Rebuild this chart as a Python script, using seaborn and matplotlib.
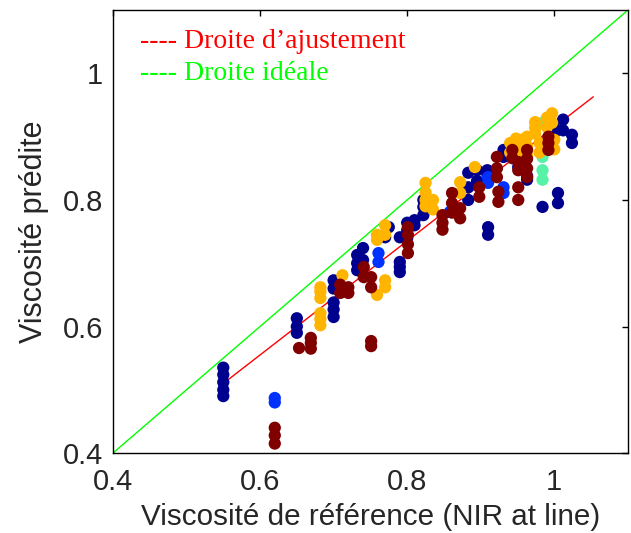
import numpy as np
import pandas as pd
import matplotlib
matplotlib.use("Agg")
import matplotlib.pyplot as plt
import seaborn as sns

# Données (référence, prédite) par série
ref_navy = [0.55, 0.55, 0.55, 0.55, 0.55,
            0.65, 0.65, 0.65,
            0.70, 0.70, 0.70, 0.70, 0.70,
            0.732, 0.732, 0.732, 0.74, 0.74,
            0.77, 0.775, 0.79, 0.79, 0.79, 0.79,
            0.80, 0.80, 0.80, 0.81, 0.81,
            0.822, 0.822, 0.822,
            0.883, 0.883, 0.883, 0.895, 0.895,
            0.909, 0.909, 0.91, 0.91,
            0.931, 0.931, 0.951, 0.951, 0.963, 0.963,
            0.984, 1.005, 1.005, 1.0, 1.0, 1.012, 1.012, 1.024, 1.024]
pred_navy = [0.49, 0.50, 0.512, 0.524, 0.535,
             0.59, 0.60, 0.613,
             0.615, 0.627, 0.638, 0.66, 0.673,
             0.689, 0.70, 0.713, 0.705, 0.724,
             0.741, 0.757, 0.686, 0.694, 0.702, 0.741,
             0.74, 0.752, 0.764, 0.76, 0.768,
             0.776, 0.789, 0.80,
             0.80, 0.82, 0.843, 0.83, 0.847,
             0.84, 0.847, 0.745, 0.757,
             0.868, 0.879, 0.852, 0.868, 0.832, 0.838,
             0.789, 0.795, 0.811, 0.906, 0.915, 0.91, 0.927, 0.89, 0.903]

ref_blue = [0.62, 0.62, 0.761, 0.761, 0.858, 0.91, 0.91, 0.931, 0.931, 0.951]
pred_blue = [0.48, 0.487, 0.702, 0.716, 0.781, 0.827, 0.836, 0.811, 0.82, 0.868]

ref_aqua = [0.984, 0.984, 0.984, 0.984, 0.984]
pred_aqua = [0.832, 0.847, 0.868, 0.885, 0.922]

ref_orange = [0.682, 0.682, 0.682, 0.682, 0.682, 0.682,
              0.712, 0.759, 0.759, 0.759,
              0.77, 0.77, 0.77, 0.77,
              0.825, 0.825, 0.825, 0.825, 0.835, 0.835,
              0.872, 0.872, 0.892,
              0.94, 0.94, 0.948, 0.948, 0.948, 0.955, 0.955,
              0.963, 0.963, 0.963, 0.974, 0.974, 0.974,
              0.98, 0.98, 0.99, 0.99, 0.997, 0.997, 1.0, 1.0]
pred_orange = [0.602, 0.612, 0.621, 0.645, 0.655, 0.662,
               0.681, 0.65, 0.737, 0.745,
               0.662, 0.673, 0.745, 0.76,
               0.79, 0.80, 0.812, 0.827, 0.785, 0.80,
               0.811, 0.828, 0.852,
               0.875, 0.89, 0.87, 0.885, 0.897, 0.88, 0.895,
               0.87, 0.885, 0.90, 0.905, 0.914, 0.923,
               0.875, 0.89, 0.915, 0.93, 0.922, 0.937, 0.88, 0.895]

ref_maroon = [0.62, 0.62, 0.62,
              0.653, 0.669, 0.669, 0.669,
              0.709, 0.709, 0.72, 0.72,
              0.741, 0.741, 0.751, 0.751, 0.751, 0.751,
              0.801, 0.801, 0.801, 0.801,
              0.848, 0.848, 0.848, 0.861, 0.861, 0.861,
              0.872, 0.872, 0.898, 0.898, 0.924, 0.924,
              0.922, 0.922, 0.922, 0.943, 0.943,
              0.951, 0.951, 0.951, 0.951,
              0.963, 0.963, 0.963, 0.963,
              0.992, 0.992, 0.992]
pred_maroon = [0.415, 0.428, 0.44,
               0.566, 0.565, 0.574, 0.582,
               0.653, 0.666, 0.653, 0.662,
               0.678, 0.694, 0.569, 0.577, 0.662, 0.678,
               0.716, 0.73, 0.745, 0.757,
               0.753, 0.764, 0.776, 0.78, 0.795, 0.811,
               0.771, 0.787, 0.805, 0.82, 0.797, 0.813,
               0.836, 0.85, 0.868, 0.866, 0.879,
               0.80, 0.82, 0.847, 0.86,
               0.836, 0.85, 0.865, 0.879,
               0.879, 0.89, 0.90]

# droites (extrémités lues)
fit_x = [0.55, 1.053]
fit_y = [0.51, 0.963]
ideal_x = [0.4, 1.1]
ideal_y = [0.4, 1.1]

couleurs = {"navy": "#00008F", "blue": "#0032FF", "aqua": "#55F2A8",
            "orange": "#FFB400", "maroon": "#800000"}

series = [("navy", ref_navy, pred_navy), ("blue", ref_blue, pred_blue),
          ("aqua", ref_aqua, pred_aqua), ("orange", ref_orange, pred_orange),
          ("maroon", ref_maroon, pred_maroon)]
df = pd.concat([pd.DataFrame({"ref": r, "pred": p, "groupe": g}) for g, r, p in series],
               ignore_index=True)

sns.set_theme(style="white")
plt.rcParams["font.family"] = ["Liberation Sans", "DejaVu Sans"]
plt.rcParams["xtick.direction"] = "in"
plt.rcParams["ytick.direction"] = "in"

fig, ax = plt.subplots(figsize=(6.31, 5.33), dpi=100)
fig.subplots_adjust(left=0.179, right=0.995, bottom=0.150, top=0.981)

ax.plot(ideal_x, ideal_y, color="#00FF00", lw=1, zorder=1)
ax.plot(fit_x, fit_y, color="#FF0000", lw=1, zorder=1)
sns.scatterplot(data=df, x="ref", y="pred", hue="groupe", palette=couleurs,
                s=78, linewidth=0, legend=False, ax=ax, zorder=2)

ax.set_xlim(0.4, 1.1)
ax.set_ylim(0.4, 1.1)
ax.set_xticks([0.4, 0.6, 0.8, 1.0])
ax.set_xticklabels(["0.4", "0.6", "0.8", "1"])
ax.set_yticks([0.4, 0.6, 0.8, 1.0])
ax.set_yticklabels(["0.4", "0.6", "0.8", "1"])
ax.tick_params(axis="both", labelsize=21, length=4, width=1, color="black",
               top=True, right=True)
ax.tick_params(axis="x", pad=11)
ax.tick_params(axis="y", pad=7)
for s in ax.spines.values():
    s.set_color("black")
    s.set_linewidth(1)

ax.set_xlabel("Viscosité de référence (NIR at line)", fontsize=21.3, labelpad=5)
ax.set_ylabel("Viscosité prédite", fontsize=22, labelpad=10)

ax.text(0.437, 1.05, "---- Droite d\u2019ajustement", color="#FF0000",
        family="Liberation Serif", fontsize=20, va="center")
ax.text(0.437, 1.0, "---- Droite idéale", color="#00FF00",
        family="Liberation Serif", fontsize=20, va="center")

plt.savefig("out.png", dpi=100)
